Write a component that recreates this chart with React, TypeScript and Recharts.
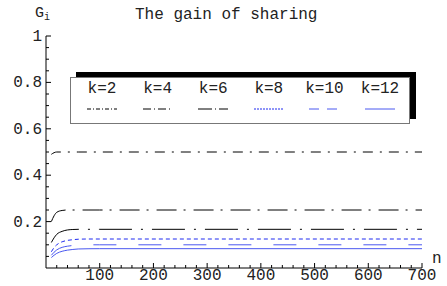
import React from "react";
import { Legend, Line, LineChart, XAxis, YAxis } from "recharts";

const nValues = [10, 15, 20, 30, 40, 50, 60, 80, 100, 700];

// gain of sharing G_i for each k
const k2 = [0.49, 0.497, 0.5, 0.5, 0.5, 0.5, 0.5, 0.5, 0.5, 0.5];
const k4 = [0.2, 0.225, 0.24, 0.248, 0.25, 0.25, 0.25, 0.25, 0.25, 0.25];
const k6 = [0.11, 0.13, 0.145, 0.158, 0.164, 0.166, 0.1667, 0.1667, 0.1667, 0.1667];
const k8 = [0.07, 0.088, 0.1, 0.113, 0.119, 0.122, 0.124, 0.125, 0.125, 0.125];
const k10 = [0.055, 0.068, 0.078, 0.089, 0.094, 0.097, 0.099, 0.1, 0.1, 0.1];
const k12 = [0.045, 0.055, 0.063, 0.072, 0.077, 0.08, 0.082, 0.083, 0.0833, 0.0833];

const seriesNames = ["k=2", "k=4", "k=6", "k=8", "k=10", "k=12"];
const seriesValues = [k2, k4, k6, k8, k10, k12];

const xTicks = [
  20, 40, 60, 80, 100, 120, 140, 160, 180, 200, 220, 240, 260, 280, 300, 320,
  340, 360, 380, 400, 420, 440, 460, 480, 500, 520, 540, 560, 580, 600, 620,
  640, 660, 680, 700,
];
const yTicks = [
  0.05, 0.1, 0.15, 0.2, 0.25, 0.3, 0.35, 0.4, 0.45, 0.5, 0.55, 0.6, 0.65, 0.7,
  0.75, 0.8, 0.85, 0.9, 0.95, 1,
];

const styles = [
  { color: "#000", dash: "10 7 2 7", legendDash: "4 2 1 2" },
  { color: "#000", dash: "20 7 2 8", legendDash: "8 3 1 3" },
  { color: "#000", dash: "33 9 2 9", legendDash: "14 3 1 3" },
  { color: "#1f2bf0", dash: "4 3", legendDash: "2 1" },
  { color: "#4a58f0", dash: "23 22", legendDash: "10 8" },
  { color: "#4a58f0", dash: undefined, legendDash: undefined },
];

const FONT = "'Liberation Mono', 'Courier New', monospace";

const data = nValues.map((n, i) => {
  const row: Record<string, number> = { n };
  seriesNames.forEach((name, s) => {
    row[name] = seriesValues[s][i];
  });
  return row;
});

function XTick(props: any) {
  const { x, y, payload } = props;
  const v = payload.value as number;
  const major = v % 100 === 0;
  return (
    <g>
      <line x1={x} x2={x} y1={y} y2={y - (major ? 5 : 3)} stroke="#000" />
      {major && (
        <text x={x} y={y + 12} textAnchor="middle" fontFamily={FONT} fontSize={16} fill="#222">
          {v}
        </text>
      )}
    </g>
  );
}

function YTick(props: any) {
  const { x, y, payload } = props;
  const v = payload.value as number;
  const major = Math.round(v * 100) % 20 === 0;
  return (
    <g>
      <line x1={x} x2={x + (major ? 5 : 3)} y1={y} y2={y} stroke="#000" />
      {major && (
        <text x={x - 4} y={y + 5} textAnchor="end" fontFamily={FONT} fontSize={16} fill="#222">
          {v === 1 ? "1" : v.toFixed(1)}
        </text>
      )}
    </g>
  );
}

function LegendBox() {
  return (
    <div
      style={{
        width: 340,
        height: 47,
        boxSizing: "border-box",
        border: "1px solid #777",
        background: "#fff",
        boxShadow: "6px -5px 0 #000",
        position: "relative",
      }}
    >
      {seriesNames.map((name, i) => (
        <div
          key={name}
          style={{
            position: "absolute",
            left: 31 + i * 55.6 - 28,
            top: 2,
            width: 56,
            textAlign: "center",
          }}
        >
          <div style={{ fontFamily: FONT, fontSize: 16, color: "#222", lineHeight: "18px" }}>
            {name}
          </div>
          <svg width={56} height={12} style={{ display: "block", marginTop: 5 }}>
            <line
              x1={13}
              x2={43}
              y1={6}
              y2={6}
              stroke={styles[i].color}
              strokeWidth={1}
              strokeDasharray={styles[i].legendDash}
            />
          </svg>
        </div>
      ))}
    </div>
  );
}

export default function App() {
  return (
    <div
      style={{
        position: "absolute",
        left: 0,
        top: 0,
        width: 447,
        height: 286,
        background: "#fff",
      }}
    >
      <LineChart
        width={447}
        height={286}
        data={data}
        margin={{ top: 36, right: 25, bottom: 17, left: 45 }}
      >
        <XAxis
          dataKey="n"
          type="number"
          domain={[0, 700]}
          ticks={xTicks}
          interval={0}
          height={1}
          tickSize={0}
          tickMargin={0}
          tickLine={false}
          axisLine={{ stroke: "#000" }}
          tick={<XTick />}
        />
        <YAxis
          type="number"
          domain={[0, 1]}
          ticks={yTicks}
          interval={0}
          width={1}
          tickSize={0}
          tickMargin={0}
          tickLine={false}
          axisLine={{ stroke: "#000" }}
          tick={<YTick />}
        />
        <Legend
          layout="vertical"
          align="center"
          verticalAlign="middle"
          wrapperStyle={{ left: 70, top: 77, width: 340, height: 47 }}
          content={() => <LegendBox />}
        />
        {seriesNames.map((name, i) => (
          <Line
            key={name}
            dataKey={name}
            type="monotone"
            dot={false}
            stroke={styles[i].color}
            strokeWidth={1}
            strokeDasharray={styles[i].dash}
            isAnimationActive={false}
          />
        ))}
      </LineChart>
      <div
        style={{
          position: "absolute",
          left: 135,
          top: 5,
          fontFamily: FONT,
          fontSize: 16,
          lineHeight: "20px",
          color: "#222",
          whiteSpace: "nowrap",
        }}
      >
        The gain of sharing
      </div>
      <div
        style={{
          position: "absolute",
          left: 35,
          top: 4,
          fontFamily: FONT,
          fontSize: 15,
          lineHeight: "20px",
          color: "#222",
        }}
      >
        G<span style={{ fontSize: 10, verticalAlign: "-3px" }}>i</span>
      </div>
      <div
        style={{
          position: "absolute",
          left: 432,
          top: 250,
          fontFamily: FONT,
          fontSize: 16,
          lineHeight: "18px",
          color: "#222",
        }}
      >
        n
      </div>
    </div>
  );
}
